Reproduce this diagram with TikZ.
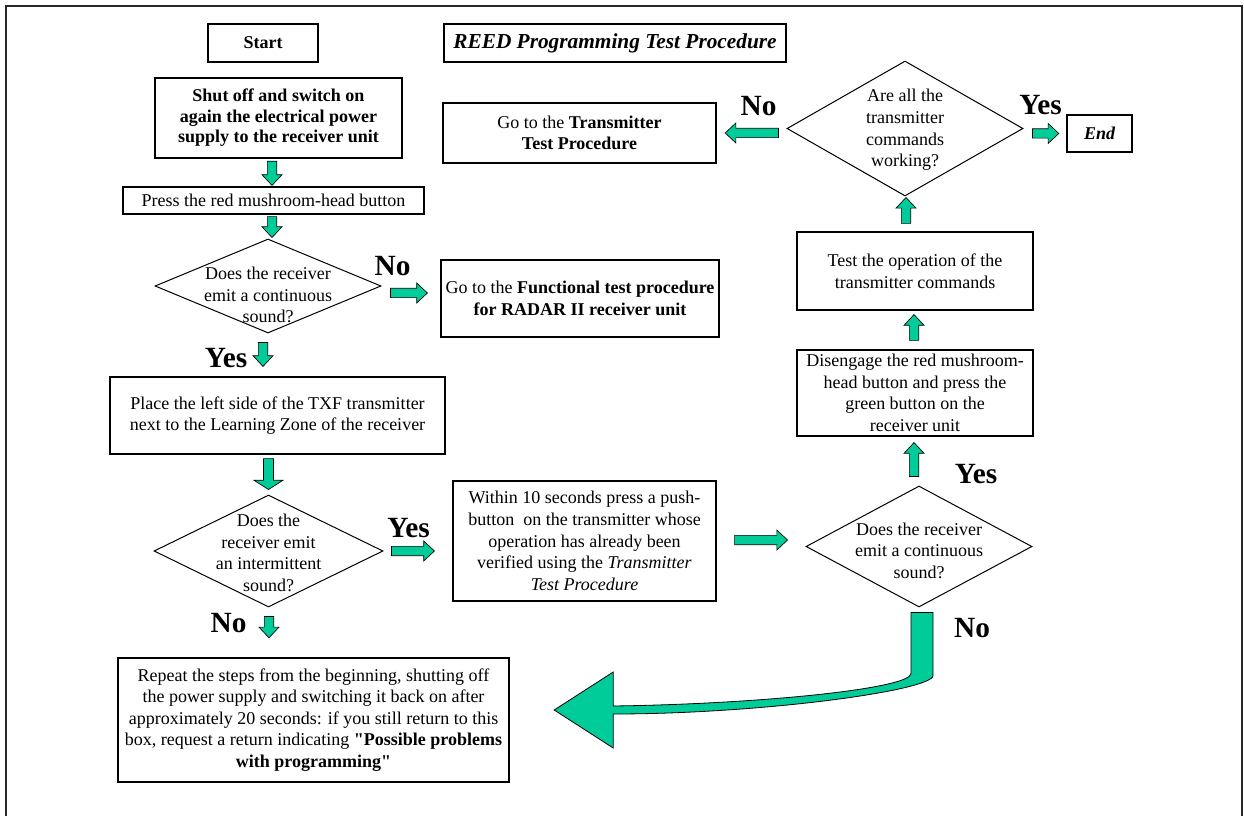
\documentclass[tikz,border=0pt]{standalone}
\usepackage{fontspec}
\setmainfont{Liberation Serif}
\usetikzlibrary{shapes.geometric,calc}
\definecolor{flowgreen}{RGB}{0,204,153}
\definecolor{framegray}{RGB}{40,40,40}
\newcommand{\bashaft}{3.5pt}
\newcommand{\bahalf}{7.5pt}
\newcommand{\bahead}{8pt}
\newcommand{\straightquote}{\XeTeXglyph\XeTeXcharglyph"22\relax}
\tikzset{every picture/.style={line width=0.75pt}}
\tikzset{
  txt/.style={font=\fontsize{13.5}{16.2}\selectfont, align=center, inner sep=0pt},
  stepbox/.style={txt, draw=black, line width=0.9pt},
  boldbox/.style={stepbox, line width=1.8pt},
  decision/.style={diamond, draw=black, line width=0.75pt, inner sep=0pt},
  lbl/.style={font=\bfseries\fontsize{22}{24}\selectfont, inner sep=0pt},
  widehead/.code={\def\bashaft{3.75pt}\def\bahalf{11pt}\def\bahead{7pt}},
  blockarrow/.style={draw=black, fill=flowgreen, line width=0.5pt, line join=miter,
    to path={
      ($(\tikztostart)!\bashaft!-90:(\tikztotarget)$)
      -- ($(\tikztotarget)!\bahead!(\tikztostart)!\bashaft!-90:(\tikztotarget)$)
      -- ($(\tikztotarget)!\bahead!(\tikztostart)!\bahalf!-90:(\tikztotarget)$)
      -- (\tikztotarget)
      -- ($(\tikztotarget)!\bahead!(\tikztostart)!\bahalf!90:(\tikztotarget)$)
      -- ($(\tikztotarget)!\bahead!(\tikztostart)!\bashaft!90:(\tikztotarget)$)
      -- ($(\tikztostart)!\bashaft!90:(\tikztotarget)$)
      -- cycle}},
  bigflow/.style={draw=black, fill=flowgreen, line width=0.6pt},
}
\begin{document}
\begin{tikzpicture}[x=0.75pt,y=-0.75pt]
\useasboundingbox (0,0) rectangle (1244,816);
%Frame
\draw[framegray, line width=1.5pt] (6,822) -- (6,6) -- (1242,6) -- (1242,822);

%Left column
\node[boldbox, font=\bfseries\fontsize{13.5}{16.2}\selectfont, minimum width=82.5pt, minimum height=28.5pt] (start) at (263,43) {Start};
\node[stepbox, font=\bfseries\itshape\fontsize{16}{19}\selectfont, minimum width=256.5pt, minimum height=28.5pt] (title) at (615,43) {REED Programming Test Procedure};
\node[boldbox, font=\bfseries\fontsize{13.5}{15.4}\selectfont, minimum width=185.25pt, minimum height=60pt] (shutoff) at (278.5,118) {Shut off and switch on\\again the electrical power\\supply to the receiver unit};
\node[stepbox, minimum width=225.75pt, minimum height=20.25pt] (pressred) at (273.5,200.5) {Press the red mushroom-head button};
\node[decision, minimum width=169.5pt, minimum height=70.5pt] (askcont) at (268,286) {};
\node[txt] (askcontq) at ($(askcont)+(0,9)$) {Does the receiver\\emit a continuous\\sound?};
\node[stepbox, minimum width=208.5pt, minimum height=57.75pt] (funcproc) at (580,298.5) {Go to the \textbf{Functional test procedure}\\\textbf{for RADAR II receiver unit}};
\node[stepbox, minimum width=251.25pt, minimum height=57.75pt] (placetx) at (277.5,415.5) {Place the left side of the TXF transmitter\\next to the Learning Zone of the receiver};
\node[decision, minimum width=171.75pt, minimum height=84pt] (askinter) at (268.5,551) {};
\node[txt] (askinterq) at ($(askinter)+(0,2)$) {Does the\\receiver emit\\an intermittent\\sound?};
\node[stepbox, minimum width=197.25pt, minimum height=90pt] (pushbtn) at (584.5,541) {Within 10 seconds press a push-\\button\ \ on the transmitter whose\\operation has already been\\verified using the \textit{Transmitter}\\\textit{Test Procedure}};
\node[boldbox, minimum width=293.25pt, minimum height=93pt] (restart) at (313.5,720) {Repeat the steps from the beginning, shutting off\\the power supply and switching it back on after\\approximately 20 seconds: if you still return to this\\box, request a return indicating \textbf{\straightquote Possible problems}\\\textbf{with programming\straightquote}};

%Right column
\node[decision, minimum width=169.5pt, minimum height=90.75pt] (askcont2) at (919,546.5) {};
\node[txt] (askcont2q) at ($(askcont2)+(0,4)$) {Does the receiver\\emit a continuous\\sound?};
\node[stepbox, minimum width=177pt, minimum height=64.5pt] (disengage) at (915,393) {Disengage the red mushroom-\\head button and press the\\green button on the\\receiver unit};
\node[stepbox, minimum width=177pt, minimum height=58.5pt] (testcmd) at (915,271) {Test the operation of the\\transmitter commands};
\node[decision, minimum width=177pt, minimum height=101.25pt] (askall) at (905,128.5) {};
\node[txt] (askallq) at ($(askall)+(0,1.5)$) {Are all the\\transmitter\\commands\\working?};
\node[boldbox, minimum width=204.75pt, minimum height=45pt] (txproc) at (579.5,133) {Go to the \textbf{Transmitter}\\\textbf{Test Procedure}};
\node[boldbox, font=\bfseries\itshape\fontsize{13.5}{16.2}\selectfont, minimum width=48.75pt, minimum height=27.75pt] (finish) at (1099.5,133.5) {End};

%Answers
\node[lbl] (nocont) at ($(askcont.east)+(11,-20)$) {No};
\node[lbl] (yescont) at ($(askcont.south)+(-42,25)$) {Yes};
\node[lbl] (yesinter) at ($(askinter.east)+(25,-23)$) {Yes};
\node[lbl] (nointer) at ($(askinter.south)+(-40,16)$) {No};
\node[lbl] (yescont2) at ($(askcont2.north)+(57,-11)$) {Yes};
\node[lbl] (nocont2) at ($(askcont2.south)+(53,21)$) {No};
\node[lbl] (noall) at ($(askall.west)+(-28,-22)$) {No};
\node[lbl] (yesall) at ($(askall.east)+(17,-23)$) {Yes};

%Block arrows
\draw[blockarrow] ([shift={(-6.5,2)}]shutoff.south) to ([shift={(-6.5,-1)}]shutoff.south |- pressred.north);
\draw[blockarrow] ([shift={(-1.5,2)}]pressred.south) to ([shift={(-1.5,-1)}]pressred.south |- askcont.north);
\draw[blockarrow] ([shift={(9,7)}]askcont.east) to ([shift={(-13,7)}]askcont.east -| funcproc.west);
\draw[blockarrow] ([shift={(-5,9)}]askcont.south) to ([shift={(-5,-10)}]askcont.south |- placetx.north);
\draw[blockarrow, widehead] ([shift={(0,4)}]askinter.north |- placetx.south) to ([shift={(0,-5)}]askinter.north);
\draw[blockarrow] ([shift={(8,0)}]askinter.east) to ([shift={(-18,0)}]askinter.east -| pushbtn.west);
\draw[blockarrow] ([shift={(0.5,9)}]askinter.south) to ([shift={(0.5,-19)}]askinter.south |- restart.north);
\draw[blockarrow] ([shift={(18,-1)}]pushbtn.east) to ([shift={(-18,-1)}]pushbtn.east -| askcont2.west);
\draw[blockarrow] ([shift={(-1,-9)}]disengage.south |- askcont2.north) to ([shift={(-1,6)}]disengage.south);
\draw[blockarrow] ([shift={(-1,-9)}]disengage.north) to ([shift={(-1,4)}]disengage.north |- testcmd.south);
\draw[blockarrow] ([shift={(1,-8)}]askall.south |- testcmd.north) to ([shift={(1,1)}]askall.south);
\draw[blockarrow] ([shift={(-8,0)}]askall.west |- txproc.east) to ([shift={(8,0)}]txproc.east);
\draw[blockarrow] ([shift={(9,0)}]askall.east |- finish.west) to ([shift={(-7,0)}]finish.west);

%Curved return arrow
\coordinate (nofrom) at ($(askcont2.south)+(3,5)$);
\coordinate (noto) at ($(restart.east)+(44,-10)$);
\draw[bigflow] ($(nofrom)+(-11,0)$) -- ($(nofrom)+(11,0)$) -- ($(nofrom)+(11,63)$)
  .. controls ($(nofrom)+(11,78)$) and ($(noto)+(207,4)$) .. ($(noto)+(59,4)$)
  -- ($(noto)+(59,38)$) -- (noto) -- ($(noto)+(59,-38)$) -- ($(noto)+(59,-4)$)
  .. controls ($(noto)+(207,-6)$) and ($(nofrom)+(-11,76)$) .. ($(nofrom)+(-11,61)$) -- cycle;
\end{tikzpicture}
\end{document}
